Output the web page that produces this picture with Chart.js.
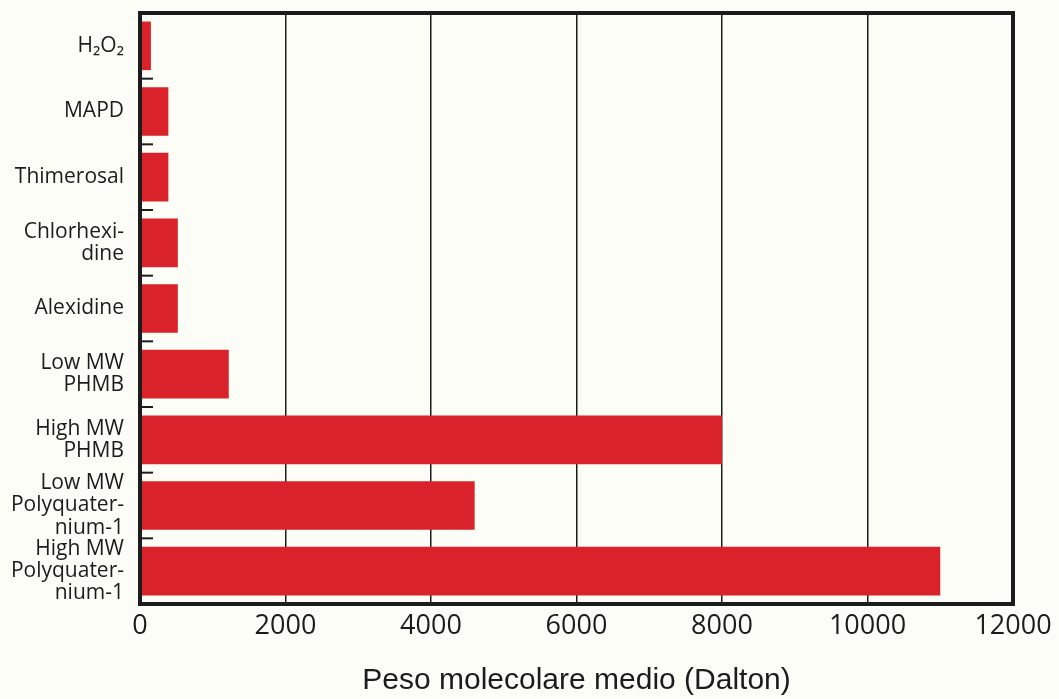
<!DOCTYPE html>
<html>
<head>
<meta charset="utf-8">
<script src="https://cdn.jsdelivr.net/npm/chart.js@4/dist/chart.umd.min.js"></script>
<style>
  html, body { margin: 0; padding: 0; background: #fdfdf8; }
  #wrap { width: 1059px; height: 699px; }
</style>
</head>
<body>
<div id="wrap"><canvas id="chart" width="1059" height="699"></canvas></div>
<script>
// Molecular weight of each preservative
const categories = [
  "H₂O₂",
  "MAPD",
  "Thimerosal",
  ["Chlorhexi-", "dine"],
  "Alexidine",
  ["Low MW", "PHMB"],
  ["High MW", "PHMB"],
  ["Low MW", "Polyquater-", "nium-1"],
  ["High MW", "Polyquater-", "nium-1"]
];
const weights = [150, 390, 390, 520, 520, 1220, 8000, 4600, 11000];
const xTicks = [0, 2000, 4000, 6000, 8000, 10000, 12000];
const axisTitle = "Peso molecolare medio (Dalton)";

const ink = "#1c1c1c";
const barRed = "#d9222a";

// frame round the plot and the little dashes between categories
const framePlugin = {
  id: "frame",
  afterDatasetsDraw(chart) {
    const { ctx, chartArea: a, scales } = chart;
    ctx.save();
    ctx.strokeStyle = ink;
    ctx.lineWidth = 2;
    const y = scales.y;
    for (let i = 0; i < categories.length - 1; i++) {
      const py = (y.getPixelForValue(i) + y.getPixelForValue(i + 1)) / 2;
      ctx.beginPath();
      ctx.moveTo(a.left - 2, py);
      ctx.lineTo(a.left + 13, py);
      ctx.stroke();
    }
    ctx.lineWidth = 4;
    ctx.strokeRect(a.left, a.top, a.right - a.left, a.bottom - a.top);
    ctx.restore();
  }
};

new Chart(document.getElementById("chart"), {
  type: "bar",
  data: {
    labels: categories,
    datasets: [{
      data: weights,
      backgroundColor: barRed,
      borderWidth: 0,
      barPercentage: 0.74,
      categoryPercentage: 1
    }]
  },
  options: {
    indexAxis: "y",
    responsive: false,
    animation: false,
    layout: { padding: { top: 13, right: 46, left: 0, bottom: 0 } },
    plugins: {
      legend: { display: false },
      tooltip: { enabled: false }
    },
    scales: {
      x: {
        min: 0,
        max: 12000,
        z: 1,
        afterBuildTicks: scale => { scale.ticks = xTicks.map(v => ({ value: v })); },
        afterFit: scale => {
          scale.height = 95;
          scale.paddingLeft = 0;
          scale.paddingRight = 0;
        },
        grid: {
          drawTicks: false,
          lineWidth: 1.5,
          color: ctx => (ctx.tick && (ctx.tick.value === 0 || ctx.tick.value === 12000)) ? "rgba(0,0,0,0)" : ink
        },
        border: { display: false },
        ticks: {
          color: ink,
          padding: 6,
          callback: v => String(v),
          font: { family: "'Open Sans'", size: 27 }
        },
        title: {
          display: true,
          text: axisTitle,
          color: ink,
          padding: 0,
          font: { family: "'Liberation Sans', Arial", size: 30 }
        }
      },
      y: {
        afterFit: scale => {
          scale.width = 140;
          scale.paddingTop = 0;
          scale.paddingBottom = 0;
        },
        grid: { display: false },
        border: { display: false },
        ticks: {
          color: ink,
          padding: 8,
          autoSkip: false,
          font: { family: "'Open Sans', 'Noto Sans'", size: 21, lineHeight: 1.05 }
        }
      }
    }
  },
  plugins: [framePlugin]
});
</script>
</body>
</html>
